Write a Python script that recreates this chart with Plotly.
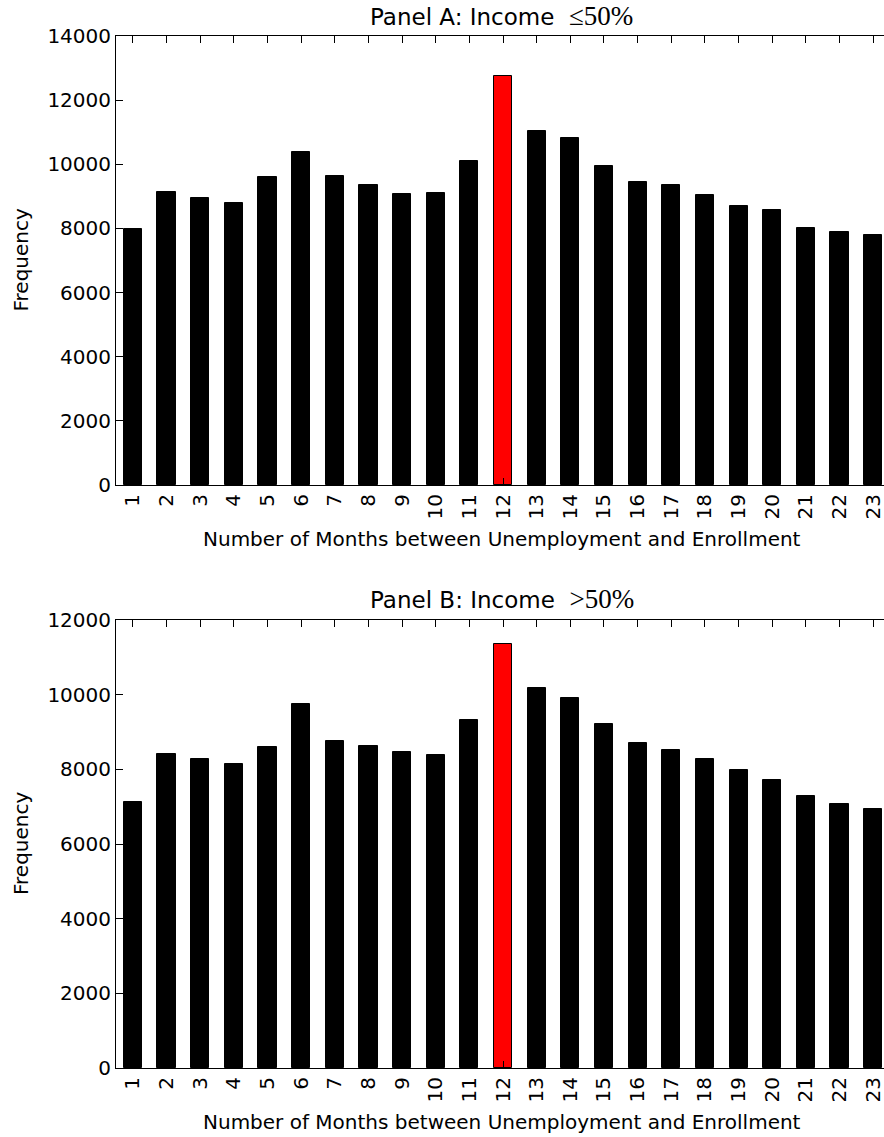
import plotly.graph_objects as go

# ---- data ----
months = ["1", "2", "3", "4", "5", "6", "7", "8", "9", "10", "11", "12",
          "13", "14", "15", "16", "17", "18", "19", "20", "21", "22", "23"]
panel_a = [7990, 9130, 8950, 8790, 9610, 10390, 9630, 9350, 9080, 9110, 10100, 12760,
           11050, 10830, 9940, 9460, 9340, 9050, 8700, 8590, 8020, 7890, 7790]
panel_b = [7130, 8420, 8280, 8130, 8590, 9750, 8770, 8620, 8470, 8390, 9310, 11360,
           10180, 9910, 9210, 8710, 8530, 8280, 7970, 7720, 7290, 7070, 6930]
highlight_month = "12"
ticks_a = [0, 2000, 4000, 6000, 8000, 10000, 12000, 14000]
ticks_b = [0, 2000, 4000, 6000, 8000, 10000, 12000]
title_a = "Panel A: Income"
math_a = "≤50%"
title_b = "Panel B: Income"
math_b = ">50%"
x_title = "Number of Months between Unemployment and Enrollment"
y_title = "Frequency"

# ---- layout constants ----
W, H = 884, 1137
FONT = "DejaVu Sans"
MATH_FONT = "Liberation Serif"

def px_x(p):                 # window pixel -> paper x
    return p / W

def px_y(p):                 # window pixel -> paper y
    return 1 - p / H

colors = ["red" if m == highlight_month else "black" for m in months]

fig = go.Figure()
fig.add_trace(go.Bar(x=months, y=panel_a, xaxis="x", yaxis="y", width=0.54,
                     marker=dict(color=colors, line=dict(color="black", width=1)),
                     showlegend=False))
fig.add_trace(go.Bar(x=months, y=panel_b, xaxis="x2", yaxis="y2", width=0.54,
                     marker=dict(color=colors, line=dict(color="black", width=1)),
                     showlegend=False))

xcommon = dict(type="category", range=[-0.5, 22.32], showline=True, linecolor="black",
               linewidth=1, mirror="ticks", ticks="inside", ticklen=7, tickcolor="black",
               tickangle=-90, showgrid=False, zeroline=False, automargin=False,
               tickfont=dict(family=FONT, size=20, color="black"),
               domain=[px_x(116), 1.0])
ycommon = dict(showline=True, linecolor="black", linewidth=1, mirror=False,
               ticks="inside", ticklen=7, tickcolor="black", showgrid=False,
               zeroline=False, automargin=False,
               tickfont=dict(family=FONT, size=20, color="black"))

fig.update_layout(
    width=W, height=H, margin=dict(l=0, r=0, t=0, b=0, autoexpand=False),
    paper_bgcolor="white", plot_bgcolor="white", bargap=0,
    font=dict(family=FONT, size=20, color="black"),
    xaxis=dict(**xcommon, anchor="y"),
    yaxis=dict(**ycommon, anchor="x", range=[0, 14000], tickvals=ticks_a,
               ticktext=[str(v) for v in ticks_a], domain=[px_y(485), px_y(36)]),
    xaxis2=dict(**xcommon, anchor="y2"),
    yaxis2=dict(**ycommon, anchor="x2", range=[0, 12000], tickvals=ticks_b,
                ticktext=[str(v) for v in ticks_b], domain=[px_y(1068), px_y(620)]),
)

xc = px_x((116 + 887) / 2)
gap = " \u00a0"
ann = []
for t, m, yc in [(title_a, math_a, 15.5), (title_b, math_b, 599)]:
    ann.append(dict(text=f"{t}{gap}<span style=\"font-family:'{MATH_FONT}';font-size:27px\">{m}</span>",
                    x=xc, y=px_y(yc), xref="paper", yref="paper", showarrow=False,
                    xanchor="center", yanchor="middle",
                    font=dict(family=FONT, size=23, color="black")))
for yc in [538.7, 1121.7]:
    ann.append(dict(text=x_title, x=xc, y=px_y(yc), xref="paper", yref="paper",
                    showarrow=False, xanchor="center", yanchor="middle",
                    font=dict(family=FONT, size=20, color="black")))
for yc in [(36 + 485) / 2, (620 + 1068) / 2]:
    ann.append(dict(text=y_title, x=px_x(21), y=px_y(yc), xref="paper", yref="paper",
                    showarrow=False, xanchor="center", yanchor="middle", textangle=-90,
                    font=dict(family=FONT, size=20, color="black")))
fig.update_layout(annotations=ann)

fig.write_html("out.html", config={"displayModeBar": False},
               post_script="document.body.style.margin='0';"
                           "document.body.style.overflow='hidden';")
